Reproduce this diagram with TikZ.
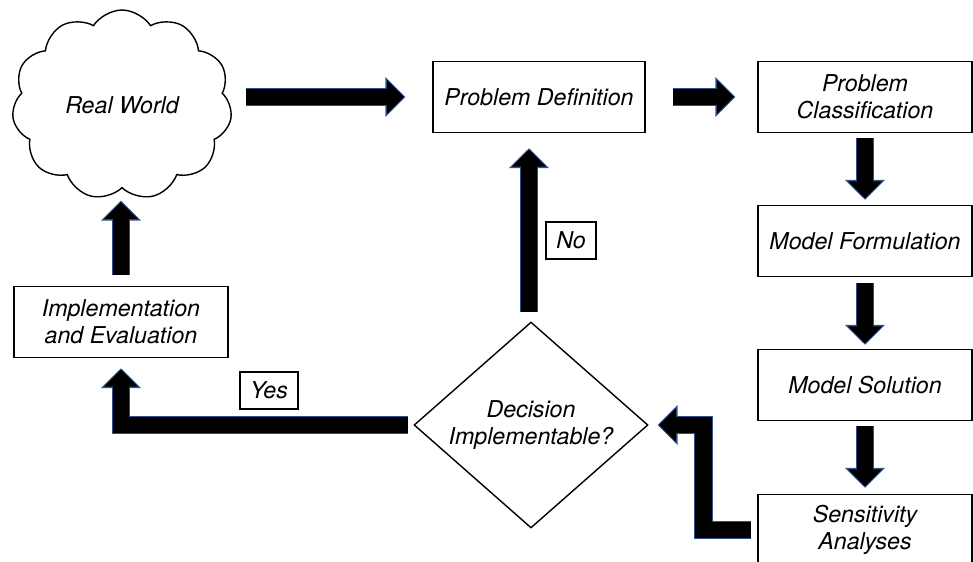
\documentclass[tikz,border=0pt]{standalone}
\usepackage{fontspec}
\setmainfont{TeX Gyre Heros}
\usetikzlibrary{shapes.geometric,shapes.symbols,arrows.meta,calc}
\definecolor{arrowblue}{RGB}{47,82,143}
\tikzset{
	box/.style={draw, line width=0.8pt, minimum width=4.28cm, minimum height=1.42cm, inner sep=2pt, align=center, font=\fontsize{13.2}{15.5}\selectfont\itshape},
	tag/.style={draw, line width=0.6pt, minimum height=0.74cm, inner sep=1pt, font=\fontsize{13.2}{15.5}\selectfont\itshape},
	blockarrow/.style={line width=0.33cm, black, line join=miter, -{Triangle[width=0.66cm,length=0.34cm,sep=0.03cm]},
		preaction={draw=arrowblue, line width=0.37cm, -{Triangle[width=0.78cm,length=0.40cm]}}}
}
\begin{document}
	\begin{tikzpicture}[x=0.02cm,y=-0.02cm]
		\useasboundingbox (0,0) rectangle (973,561);
		\clip (0,0) rectangle (973,561);
		% steps
		\node[cloud, draw, line width=0.8pt, cloud puffs=11, cloud puff arc=115, cloud ignores aspect,
			minimum width=4.4cm, minimum height=3.8cm, font=\fontsize{13.2}{15.5}\selectfont\itshape] (cloud) at (122,105) {Real World};
		\node[box, minimum width=4.24cm] (pdef) at (539,97) {Problem Definition};
		\node[box] (pclass) at (865,97) {Problem\\Classification};
		\node[box] (mform) at (865,241) {Model Formulation};
		\node[box] (msol) at (865,385) {Model Solution};
		\node[box] (sens) at (865,530) {Sensitivity\\Analyses};
		\node[box] (impl) at (121,322) {Implementation\\and Evaluation};
		\node[diamond, draw, line width=0.8pt, aspect=1.14, inner sep=0pt, minimum width=4.68cm, minimum height=4.12cm,
			align=center, font=\fontsize{13.2}{15.5}\selectfont\itshape] (dec) at (531,425) {Decision\\Implementable?};
		\node[tag, minimum width=1.0cm] (no) at (571,240.5) {No};
		\node[tag, minimum width=1.16cm] (yes) at (269,390.5) {Yes};
		% arrows
		\draw[blockarrow] ($(cloud.east |- pdef.west)+(15,0)$) -- ($(pdef.west)+(-27,0)$);
		\draw[blockarrow] ($(pdef.east)+(27,0)$) -- ($(pclass.west)+(-22,0)$);
		\draw[blockarrow] ($(pclass.south)+(0,5)$) -- ($(mform.north)+(0,-5)$);
		\draw[blockarrow] ($(mform.south)+(0,6)$) -- ($(msol.north)+(0,-4)$);
		\draw[blockarrow] ($(msol.south)+(0,5)$) -- ($(sens.north)+(0,-6)$);
		\draw[blockarrow] ($(sens.west)+(-6,0)$) -- ++(-48,0) |- ($(dec.east)+(9,0)$);
		\draw[blockarrow] ($(dec.west)+(-5,0)$) -| ($(impl.south)+(0,10)$);
		\draw[blockarrow] ($(dec.north)+(-2,-9)$) -- ($(dec.north |- pdef.south)+(-2,15)$);
		\draw[blockarrow] ($(impl.north)+(0,-11)$) -- ($(impl.north |- cloud.south)+(0,12)$);
	\end{tikzpicture}
\end{document}
